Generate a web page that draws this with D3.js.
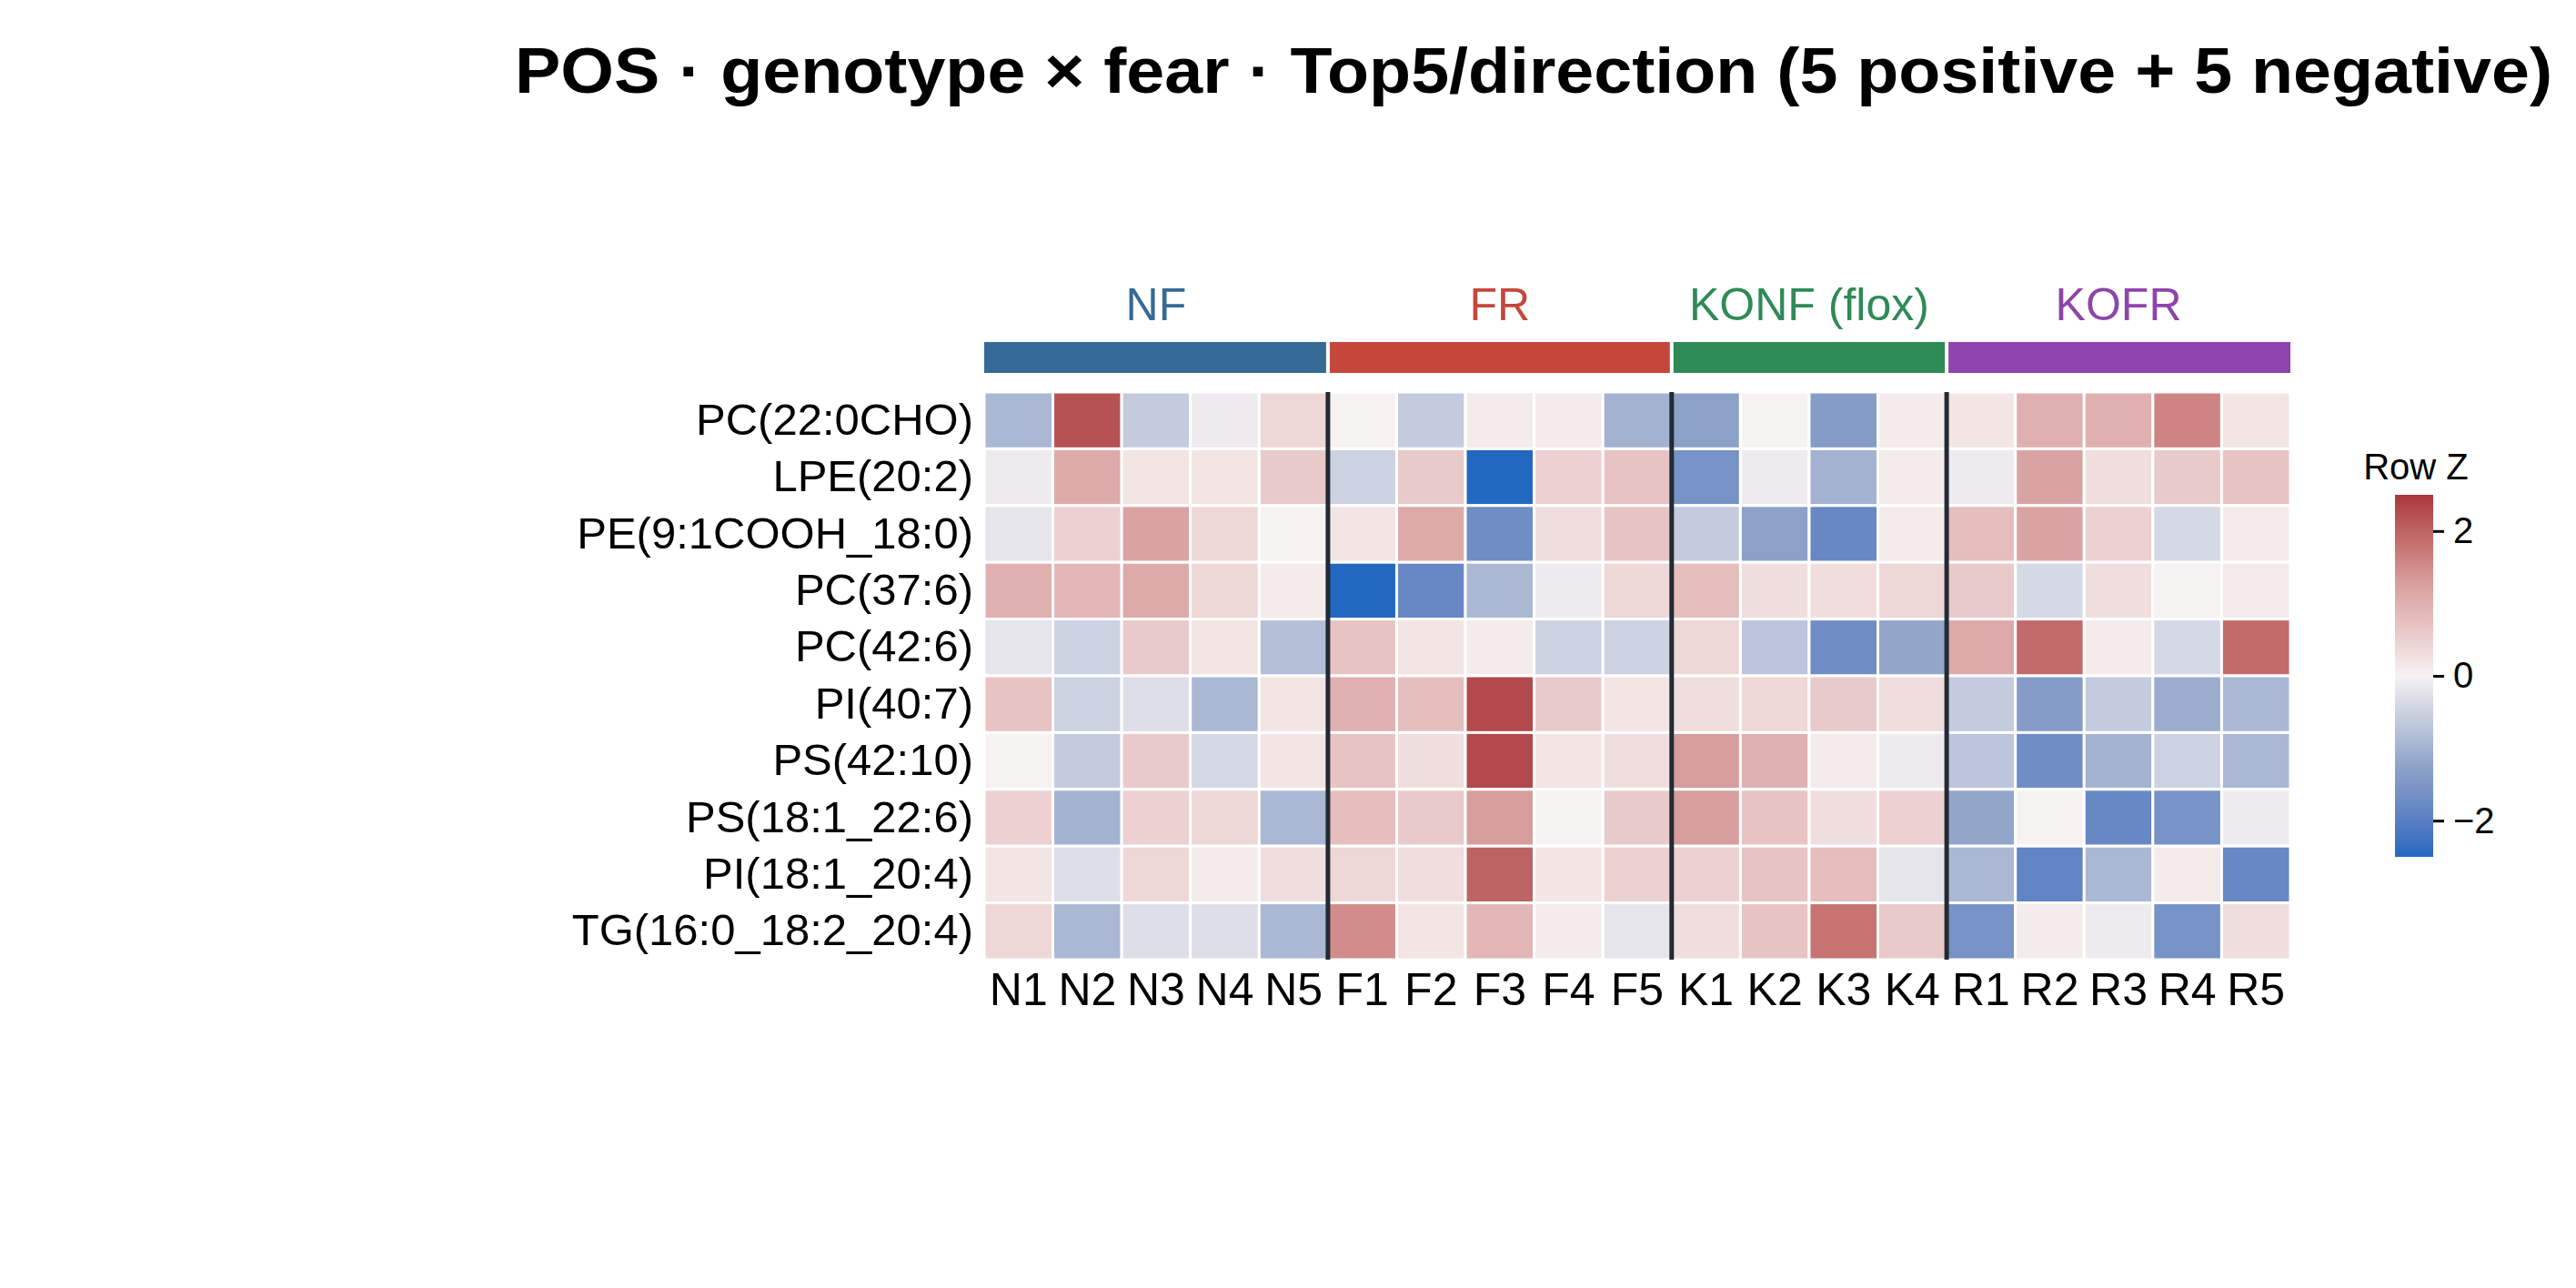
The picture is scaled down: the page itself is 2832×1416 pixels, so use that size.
<!DOCTYPE html>
<html>
<head>
<meta charset="utf-8">
<script src="https://cdn.jsdelivr.net/npm/d3@7"></script>
<style>
body { margin: 0; background: #fff; }
text { font-family: "Liberation Sans", Arial, sans-serif; }
</style>
</head>
<body>
<script>
var rows = ["PC(22:0CHO)", "LPE(20:2)", "PE(9:1COOH_18:0)", "PC(37:6)", "PC(42:6)",
    "PI(40:7)", "PS(42:10)", "PS(18:1_22:6)", "PI(18:1_20:4)", "TG(16:0_18:2_20:4)"];
var samples = ["N1","N2","N3","N4","N5","F1","F2","F3","F4","F5","K1","K2","K3","K4","R1","R2","R3","R4","R5"];
var groups = ["NF","FR","KONF (flox)","KOFR"];
var groupSizes = [5, 5, 4, 5];
var groupColors = ["#356a96", "#c5473b", "#2e8a57", "#8e44ad"];
var zTicks = [-2, 0, 2];

// row z-scores
var values = [
    [-0.9, 2.2, -0.6, -0.1, 0.4, 0.0, -0.6, 0.1, 0.1, -1.0, -1.3, 0.0, -1.4, 0.1, 0.2, 1.0, 1.0, 1.6, 0.2],
    [-0.1, 1.1, 0.2, 0.2, 0.6, -0.5, 0.6, -2.5, 0.5, 0.7, -1.6, -0.1, -1.0, 0.1, -0.1, 1.2, 0.3, 0.6, 0.7],
    [-0.2, 0.5, 1.2, 0.4, 0.0, 0.2, 1.1, -1.7, 0.3, 0.7, -0.6, -1.3, -1.8, 0.1, 0.8, 1.2, 0.5, -0.4, 0.1],
    [1.0, 0.9, 1.1, 0.4, 0.1, -2.5, -1.8, -0.9, -0.1, 0.4, 0.8, 0.3, 0.3, 0.4, 0.6, -0.4, 0.3, 0.0, 0.1],
    [-0.2, -0.5, 0.6, 0.2, -0.8, 0.7, 0.2, 0.1, -0.5, -0.5, 0.4, -0.7, -1.7, -1.2, 1.1, 1.9, 0.1, -0.4, 1.9],
    [0.7, -0.5, -0.3, -0.9, 0.2, 1.0, 0.8, 2.3, 0.6, 0.2, 0.3, 0.4, 0.6, 0.3, -0.6, -1.4, -0.6, -1.1, -0.9],
    [0.0, -0.6, 0.6, -0.4, 0.2, 0.7, 0.3, 2.3, 0.2, 0.3, 1.3, 1.0, 0.1, -0.1, -0.7, -1.7, -1.0, -0.5, -0.9],
    [0.5, -1.0, 0.5, 0.4, -0.9, 0.8, 0.6, 1.3, 0.0, 0.6, 1.3, 0.7, 0.3, 0.5, -1.2, 0.0, -1.8, -1.6, -0.1],
    [0.2, -0.3, 0.4, 0.1, 0.3, 0.4, 0.3, 2.0, 0.2, 0.5, 0.5, 0.7, 0.8, -0.2, -0.9, -1.9, -0.9, 0.1, -1.8],
    [0.4, -0.9, -0.3, -0.3, -0.9, 1.5, 0.2, 0.9, 0.1, -0.2, 0.3, 0.7, 1.8, 0.6, -1.6, 0.1, -0.1, -1.6, 0.3]
];

var W = 2832, H = 1416;
var svg = d3.select("body").append("svg").attr("width", W).attr("height", H);

var hmLeft = 1082, hmRight = 2518, hmTop = 431, hmBottom = 1055;

var x = d3.scaleBand().domain(samples).range([hmLeft, hmRight]);
var y = d3.scaleBand().domain(rows).range([hmTop, hmBottom]);

var color = d3.scaleLinear()
    .domain([-2.5, -1.25, 0, 1.25, 2.5])
    .range(["#2368c0", "#8ea3c8", "#f6f2f2", "#d9a0a0", "#a9373d"])
    .interpolate(d3.interpolateLab)
    .clamp(true);

// title
svg.append("text")
    .attr("x", 1686).attr("y", 102)
    .attr("text-anchor", "middle")
    .attr("font-size", 70).attr("font-weight", "bold")
    .attr("textLength", 2240).attr("lengthAdjust", "spacingAndGlyphs")
    .text("POS \u00b7 genotype \u00d7 fear \u00b7 Top5/direction (5 positive + 5 negative)");

// cells
rows.forEach(function(r, i){
    samples.forEach(function(s, j){
        svg.append("rect")
            .attr("x", x(s)).attr("y", y(r))
            .attr("width", x.bandwidth()).attr("height", y.bandwidth())
            .attr("fill", color(values[i][j]))
            .attr("stroke", "#fff").attr("stroke-width", 3);
    });
});

// group annotation and separators
var start = 0;
groups.forEach(function(g, k){
    var s0 = samples[start], s1 = samples[start + groupSizes[k] - 1];
    var gx0 = x(s0), gx1 = x(s1) + x.bandwidth();
    svg.append("rect")
        .attr("x", gx0 + (k > 0 ? 2 : 0)).attr("y", 376)
        .attr("width", gx1 - gx0 - (k > 0 ? 2 : 0) - (k < groups.length - 1 ? 2 : 0)).attr("height", 34)
        .attr("fill", groupColors[k]);
    svg.append("text")
        .attr("x", (gx0 + gx1) / 2).attr("y", 352)
        .attr("text-anchor", "middle")
        .attr("font-size", 50)
        .attr("fill", groupColors[k])
        .text(g);
    if(k > 0){
        svg.append("line")
            .attr("x1", gx0).attr("x2", gx0)
            .attr("y1", hmTop).attr("y2", hmBottom)
            .attr("stroke", "#222a33").attr("stroke-width", 5);
    }
    start += groupSizes[k];
});

// row labels
svg.append("g")
    .attr("transform", "translate(" + (hmLeft - 12) + ",0)")
    .call(d3.axisLeft(y).tickSize(0).tickPadding(0))
    .call(function(g){ g.select(".domain").remove(); })
    .selectAll("text")
    .attr("font-size", 49).attr("fill", "#000")
    .attr("font-family", "Liberation Sans, Arial, sans-serif");

// column labels
svg.append("g")
    .attr("transform", "translate(0," + (hmBottom + 14) + ")")
    .call(d3.axisBottom(x).tickSize(0).tickPadding(0))
    .call(function(g){ g.select(".domain").remove(); })
    .selectAll("text")
    .attr("font-size", 50).attr("fill", "#000")
    .attr("font-family", "Liberation Sans, Arial, sans-serif");

// colour bar
var cbX = 2633, cbW = 42, cbTop = 544, cbBot = 942;
var defs = svg.append("defs");
var grad = defs.append("linearGradient").attr("id", "cb")
    .attr("x1", 0).attr("x2", 0).attr("y1", 1).attr("y2", 0);
d3.range(0, 1.0001, 0.05).forEach(function(t){
    grad.append("stop").attr("offset", t).attr("stop-color", color(-2.5 + 5 * t));
});
svg.append("rect")
    .attr("x", cbX).attr("y", cbTop).attr("width", cbW).attr("height", cbBot - cbTop)
    .attr("fill", "url(#cb)");
var zs = d3.scaleLinear().domain([-2.5, 2.5]).range([cbBot, cbTop]);
svg.append("g")
    .attr("transform", "translate(" + (cbX + cbW) + ",0)")
    .call(d3.axisRight(zs).tickValues(zTicks).tickSize(12).tickPadding(10).tickFormat(d3.format("d")))
    .call(function(g){ g.select(".domain").remove(); g.selectAll("line").attr("stroke-width", 3); })
    .selectAll("text")
    .attr("font-size", 40)
    .attr("font-family", "Liberation Sans, Arial, sans-serif");
svg.append("text")
    .attr("x", 2656).attr("y", 527)
    .attr("text-anchor", "middle")
    .attr("font-size", 40)
    .text("Row Z");
</script>
</body>
</html>
